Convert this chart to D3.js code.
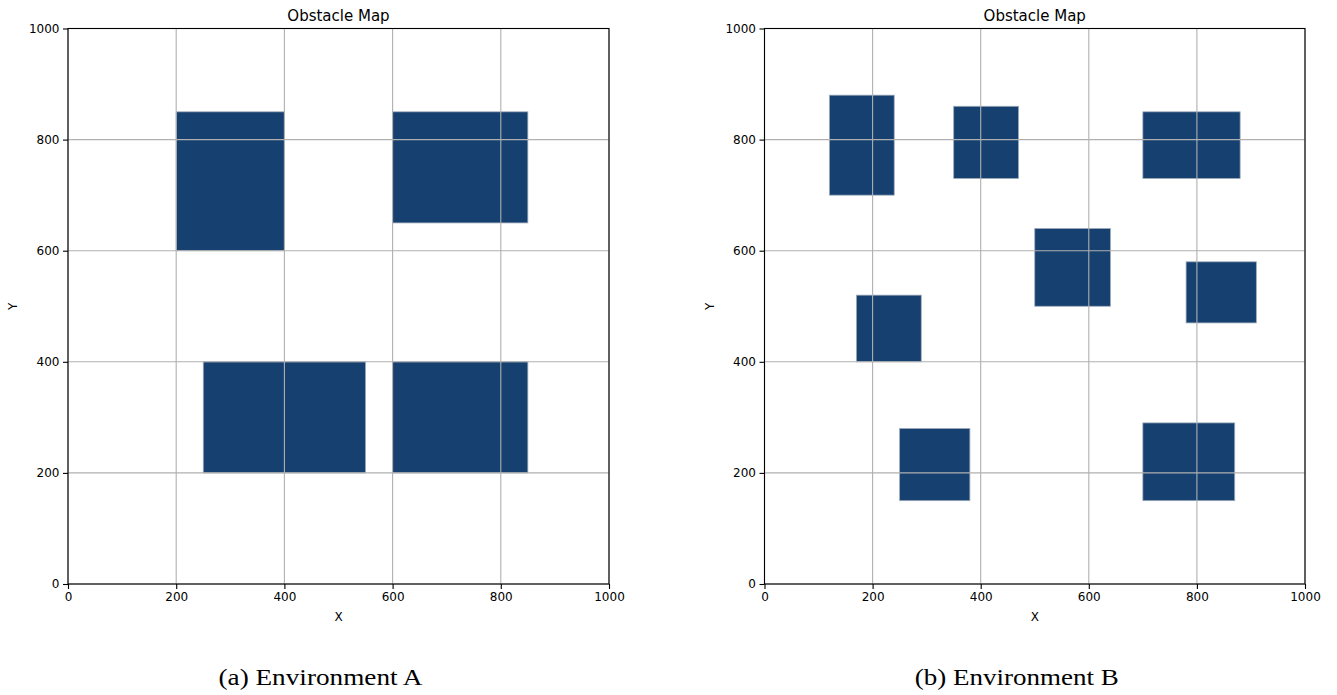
<!DOCTYPE html>
<html>
<head>
<meta charset="utf-8">
<script src="https://cdn.jsdelivr.net/npm/d3@7"></script>
<style>
  html, body { margin: 0; padding: 0; background: #fff; }
  svg { display: block; }
</style>
</head>
<body>
<svg id="chart" width="1337" height="695"></svg>
<script>
// Obstacles as [x0, x1, y0, y1] in map units
const obstaclesA = [
  [200, 400, 600, 850],
  [600, 850, 650, 850],
  [250, 550, 200, 400],
  [600, 850, 200, 400]
];
const obstaclesB = [
  [120, 240, 700, 880],
  [350, 470, 730, 860],
  [700, 880, 730, 850],
  [500, 640, 500, 640],
  [170, 290, 400, 520],
  [780, 910, 470, 580],
  [250, 380, 150, 280],
  [700, 870, 150, 290]
];
const tickValues = [0, 200, 400, 600, 800, 1000];
const mapExtent = [0, 1000];
const panelTitle = "Obstacle Map";
const captions = ["(a) Environment A", "(b) Environment B"];

const svg = d3.select("#chart");

const panels = [
  { left: 68, right: 609, data: obstaclesA, caption: captions[0] },
  { left: 764.5, right: 1305, data: obstaclesB, caption: captions[1] }
];
const plotTop = 28.5, plotBottom = 584;

panels.forEach(p => {
  const x = d3.scaleLinear().domain(mapExtent).range([p.left, p.right]);
  const y = d3.scaleLinear().domain(mapExtent).range([plotBottom, plotTop]);
  const g = svg.append("g");

  // obstacles
  g.selectAll("rect.obs").data(p.data).enter().append("rect")
    .attr("class", "obs")
    .attr("x", d => x(d[0]))
    .attr("y", d => y(d[3]))
    .attr("width", d => x(d[1]) - x(d[0]))
    .attr("height", d => y(d[2]) - y(d[3]))
    .attr("fill", "#15406f")
    .attr("stroke", "#9fabba")
    .attr("stroke-width", 0.8);

  // grid on top
  g.selectAll("line.gx").data(tickValues).enter().append("line")
    .attr("x1", d => x(d)).attr("x2", d => x(d))
    .attr("y1", plotTop).attr("y2", plotBottom)
    .attr("stroke", "#b0b0b0").attr("stroke-width", 1.1);
  g.selectAll("line.gy").data(tickValues).enter().append("line")
    .attr("y1", d => y(d)).attr("y2", d => y(d))
    .attr("x1", p.left).attr("x2", p.right)
    .attr("stroke", "#b0b0b0").attr("stroke-width", 1.1);

  // axes
  const xAxis = d3.axisBottom(x).tickValues(tickValues).tickSize(5).tickPadding(3.5).tickFormat(d3.format("d"));
  const yAxis = d3.axisLeft(y).tickValues(tickValues).tickSize(5).tickPadding(3.5).tickFormat(d3.format("d"));
  const gx = g.append("g").attr("transform", `translate(0,${plotBottom})`).call(xAxis);
  const gy = g.append("g").attr("transform", `translate(${p.left},0)`).call(yAxis);
  [gx, gy].forEach(a => {
    a.select(".domain").remove();
    a.selectAll("line").attr("stroke", "#000").attr("stroke-width", 1.1);
    a.selectAll("text").attr("font-family", "DejaVu Sans").attr("font-size", 12).attr("fill", "#000");
  });

  // frame
  g.append("rect")
    .attr("x", p.left).attr("y", plotTop)
    .attr("width", p.right - p.left).attr("height", plotBottom - plotTop)
    .attr("fill", "none").attr("stroke", "#000").attr("stroke-width", 1.1);

  // title and axis labels
  g.append("text")
    .attr("x", (p.left + p.right) / 2).attr("y", 21)
    .attr("text-anchor", "middle")
    .attr("font-family", "DejaVu Sans").attr("font-size", 15)
    .text(panelTitle);
  g.append("text")
    .attr("x", (p.left + p.right) / 2).attr("y", 621)
    .attr("text-anchor", "middle")
    .attr("font-family", "DejaVu Sans").attr("font-size", 12)
    .text("X");
  g.append("text")
    .attr("transform", `translate(${p.left - 51},${(plotTop + plotBottom) / 2}) rotate(-90)`)
    .attr("text-anchor", "middle")
    .attr("font-family", "DejaVu Sans").attr("font-size", 12)
    .text("Y");

  // caption
  g.append("text")
    .attr("x", (p.left + p.right) / 2 - 18).attr("y", 685)
    .attr("text-anchor", "middle")
    .attr("font-family", "Liberation Serif").attr("font-size", 23)
    .attr("textLength", 204).attr("lengthAdjust", "spacingAndGlyphs")
    .text(p.caption);
});
</script>
</body>
</html>
